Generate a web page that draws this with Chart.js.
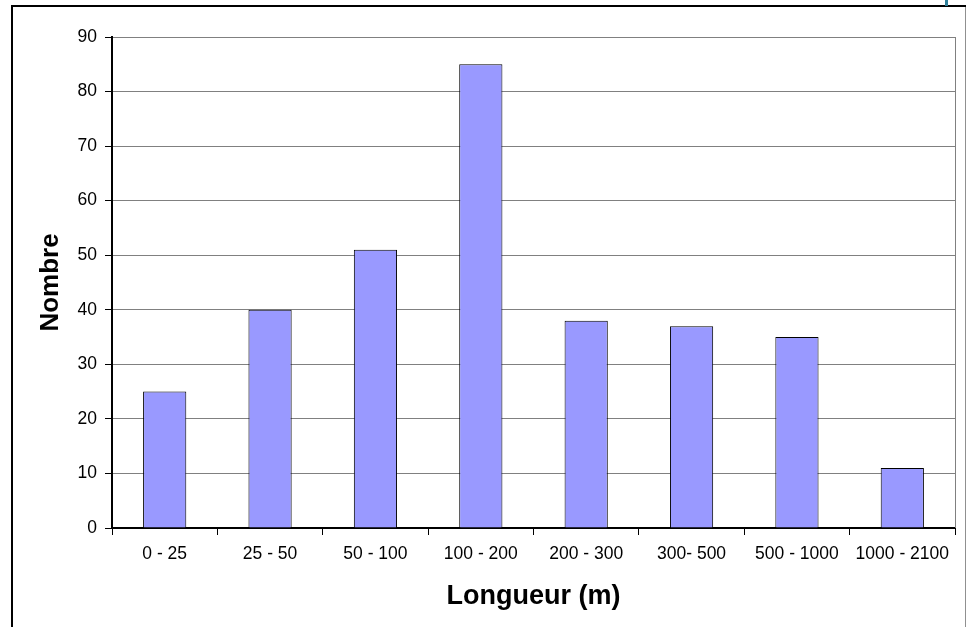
<!DOCTYPE html>
<html>
<head>
<meta charset="utf-8">
<script src="https://cdn.jsdelivr.net/npm/chart.js@4"></script>
<style>
html,body{margin:0;padding:0;background:#fff;}
#wrap{width:967px;height:627px;position:relative;}
</style>
</head>
<body>
<div id="wrap"><canvas id="c" width="967" height="627"></canvas></div>
<script>
const categories = ["0 - 25", "25 - 50", "50 - 100", "100 - 200", "200 - 300", "300- 500", "500 - 1000", "1000 - 2100"];
const counts = [25, 40, 51, 85, 38, 37, 35, 11];
const yMax = 90;
const yStep = 10;

const framePlugin = {
  id: 'frame',
  beforeDraw(chart) {
    const ctx = chart.ctx;
    ctx.save();
    ctx.fillStyle = '#fff';
    ctx.fillRect(0, 0, chart.width, chart.height);
    ctx.restore();
  },
  afterDraw(chart) {
    const ctx = chart.ctx;
    const a = chart.chartArea;
    ctx.save();
    // plot area right border
    ctx.strokeStyle = '#808080';
    ctx.lineWidth = 1;
    ctx.beginPath();
    ctx.moveTo(Math.round(a.right) + 0.5, a.top);
    ctx.lineTo(Math.round(a.right) + 0.5, a.bottom);
    ctx.stroke();
    // outer frame
    ctx.strokeStyle = '#000';
    ctx.lineWidth = 2;
    ctx.beginPath();
    ctx.moveTo(12, 627);
    ctx.lineTo(12, 6);
    ctx.lineTo(966, 6);
    ctx.stroke();
    ctx.strokeStyle = '#909090';
    ctx.lineWidth = 1;
    ctx.beginPath();
    ctx.moveTo(965.5, 7);
    ctx.lineTo(965.5, 627);
    ctx.stroke();
    ctx.fillStyle = '#2f7f9a';
    ctx.fillRect(945, 0, 3, 6);
    ctx.restore();
  }
};

new Chart(document.getElementById('c'), {
  type: 'bar',
  data: {
    labels: categories,
    datasets: [{
      data: counts,
      backgroundColor: '#9999FF',
      borderColor: '#000000',
      borderWidth: 1,
      categoryPercentage: 1,
      barPercentage: 0.41
    }]
  },
  options: {
    responsive: false,
    animation: false,
    devicePixelRatio: 1,
    layout: { padding: { left: 38, right: 12, top: 37, bottom: 17 } },
    plugins: { legend: { display: false }, tooltip: { enabled: false } },
    scales: {
      x: {
        grid: { display: true, drawOnChartArea: false, drawTicks: true, tickLength: 7, tickColor: '#000', offset: true },
        border: { color: '#000', width: 2 },
        ticks: { color: '#000', font: { family: 'Liberation Sans, Arial, sans-serif', size: 17.5 }, padding: 9, maxRotation: 0, autoSkip: false },
        title: { display: true, text: 'Longueur (m)', color: '#000', font: { family: 'Liberation Sans, Arial, sans-serif', size: 27, weight: 'bold', lineHeight: 1 }, padding: { top: 0, bottom: 0 } },
        afterFit(s) { s.height = 82; }
      },
      y: {
        min: 0,
        max: yMax,
        ticks: { stepSize: yStep, color: '#000', font: { family: 'Liberation Sans, Arial, sans-serif', size: 17.5 }, padding: 8 },
        grid: { color: '#808080', lineWidth: 1, tickColor: '#000', tickLength: 7, drawTicks: true },
        border: { color: '#000', width: 2 },
        title: { display: true, text: 'Nombre', color: '#000', font: { family: 'Liberation Sans, Arial, sans-serif', size: 26, weight: 'bold', lineHeight: 1 }, padding: { top: 0, bottom: 0 } },
        afterFit(s) { s.width = 74; }
      }
    }
  },
  plugins: [framePlugin]
});
</script>
</body>
</html>
